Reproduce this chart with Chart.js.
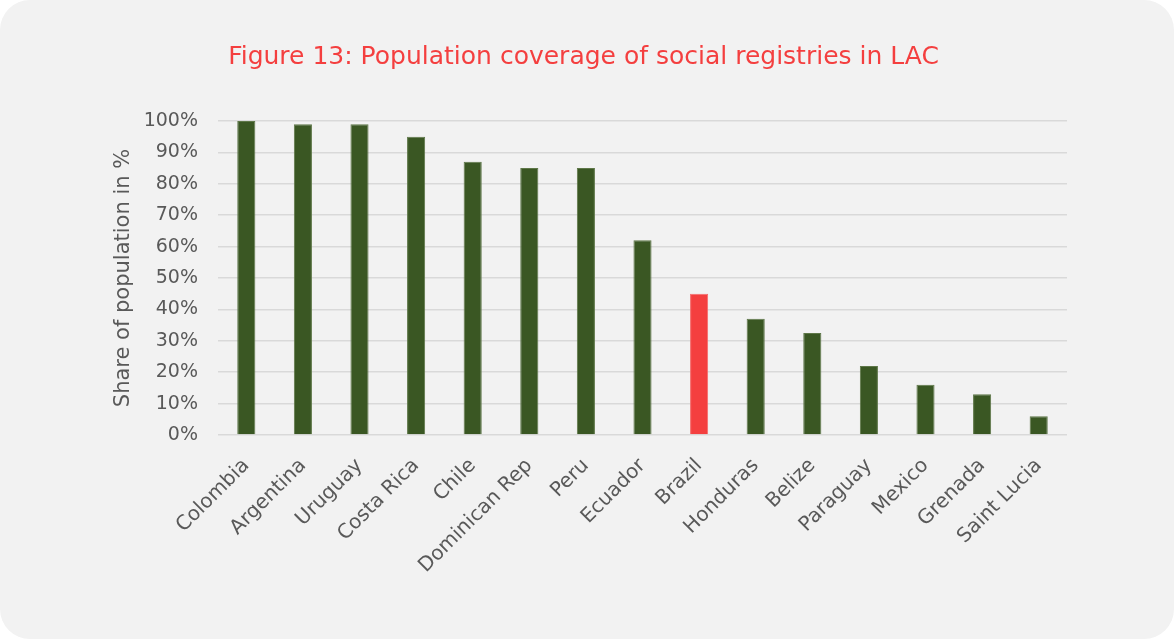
<!DOCTYPE html>
<html>
<head>
<meta charset="utf-8">
<script src="https://cdn.jsdelivr.net/npm/chart.js@4/dist/chart.umd.min.js"></script>
<style>
  html, body { margin: 0; padding: 0; background: #ffffff; }
  #card {
    width: 1174px; height: 639px;
    background: #f2f2f2;
    border-radius: 30px;
    overflow: hidden;
  }
  canvas { display: block; }
</style>
</head>
<body>
<div id="card">
  <canvas id="myChart" width="1176" height="641"></canvas>
</div>
<script>
// countries and coverage (% of population in the social registry)
var countries = ["Colombia", "Argentina", "Uruguay", "Costa Rica", "Chile", "Dominican Rep",
                 "Peru", "Ecuador", "Brazil", "Honduras", "Belize", "Paraguay", "Mexico",
                 "Grenada", "Saint Lucia"];
var coverage  = [100, 99, 99, 95, 87, 85, 85, 62, 45, 37, 32.5, 22, 16, 13, 6];
var highlight = "Brazil";

var green = "#3a5723", greenEdge = "#5e7748";
var red   = "#f43f3f", redEdge   = "#f56b6b";
var grey  = "#595959";
var fontName = "'DejaVu Sans', 'Noto Sans', sans-serif";

var barColors  = countries.map(function (c) { return c === highlight ? red : green; });
var edgeColors = countries.map(function (c) { return c === highlight ? redEdge : greenEdge; });

new Chart("myChart", {
  type: "bar",
  data: {
    labels: countries,
    datasets: [{
      data: coverage,
      backgroundColor: barColors,
      borderColor: edgeColors,
      borderWidth: 1,
      categoryPercentage: 1,
      barPercentage: 0.32
    }]
  },
  options: {
    responsive: false,
    animation: false,
    layout: { padding: { left: 100, right: 109, top: 0, bottom: 0 } },
    plugins: {
      legend: { display: false },
      tooltip: { enabled: false },
      title: {
        display: true,
        text: "Figure 13: Population coverage of social registries in LAC",
        color: red,
        font: { family: fontName, size: 25, weight: "normal" },
        padding: { top: 42, bottom: 49 }
      }
    },
    scales: {
      x: {
        grid: { display: false, drawTicks: false },
        border: { display: false },
        ticks: {
          color: grey,
          font: { family: fontName, size: 20 },
          minRotation: 45,
          maxRotation: 45,
          padding: 19,
          autoSkip: false
        },
        afterFit: function (scale) { scale.height = 206; }
      },
      y: {
        min: 0,
        max: 100,
        grid: { color: "#d9d9d9", lineWidth: 1.5, drawTicks: false },
        border: { display: false },
        ticks: {
          stepSize: 10,
          color: grey,
          padding: 20,
          font: { family: fontName, size: 19 },
          callback: function (v) { return v + "%"; }
        },
        title: {
          display: true,
          text: "Share of population in %",
          color: grey,
          font: { family: fontName, size: 21 },
          padding: { top: 11, bottom: 0 }
        },
        afterFit: function (scale) { scale.width = 118; }
      }
    }
  }
});
</script>
</body>
</html>
